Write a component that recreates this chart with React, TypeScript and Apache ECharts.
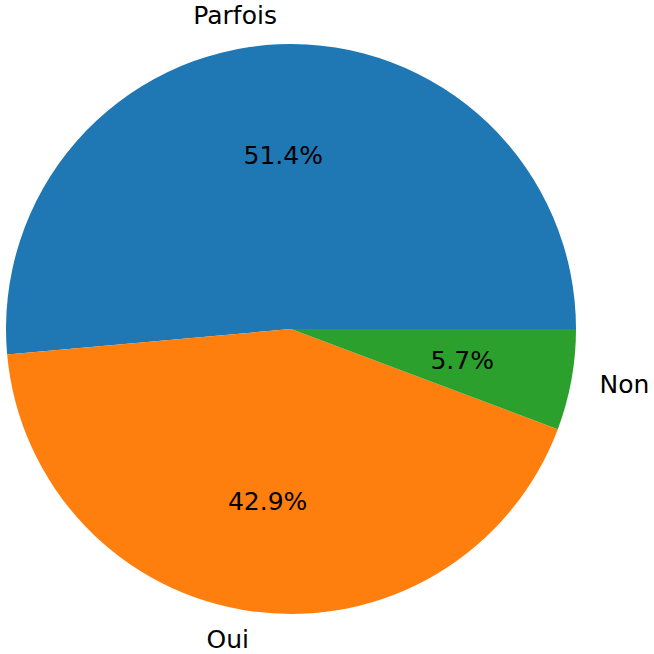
import React, { useEffect, useRef } from "react";
import * as echarts from "echarts";

const categories = ["Parfois", "Oui", "Non"];
const counts = [18, 15, 2];
const colors = ["#1f77b4", "#ff7f0e", "#2ca02c"];

const CX = 291;
const CY = 329;
const R = 285;
const FONT = "DejaVu Sans";
const FS = 25;

export default function App() {
  const ref = useRef<HTMLDivElement>(null);
  useEffect(() => {
    if (!ref.current) return;
    const chart = echarts.init(ref.current, undefined, { renderer: "svg" });
    const data = categories.map((name, i) => ({
      name,
      value: counts[i],
      itemStyle: { color: colors[i] },
    }));
    chart.setOption({
      animation: false,
      backgroundColor: "#ffffff",
      series: [
        {
          type: "pie",
          center: [CX, CY],
          radius: [0, R],
          startAngle: 0,
          clockwise: false,
          avoidLabelOverlap: false,
          minShowLabelAngle: 0,
          silent: true,
          data,
          itemStyle: { borderWidth: 0 },
          label: {
            show: true,
            position: "outside",
            formatter: "{b}",
            fontFamily: FONT,
            fontSize: FS,
            color: "#000",
            distanceToLabelLine: 0,
          },
          labelLine: { show: false, length: R * 0.1, length2: 0 },
        },
        {
          type: "pie",
          center: [CX, CY],
          radius: [0, R * 1.2],
          startAngle: 0,
          clockwise: false,
          avoidLabelOverlap: false,
          silent: true,
          z: 5,
          data: categories.map((name, i) => ({ name, value: counts[i] })),
          itemStyle: { color: "rgba(0,0,0,0)", borderWidth: 0 },
          label: {
            show: true,
            position: "inside",
            formatter: (p: any) => p.percent.toFixed(1) + "%",
            fontFamily: FONT,
            fontSize: FS,
            color: "#000",
          },
          labelLine: { show: false },
        },
      ],
    });
    return () => chart.dispose();
  }, []);
  return (
    <div
      ref={ref}
      style={{ position: "fixed", left: 0, top: 0, width: 654, height: 654 }}
    />
  );
}
